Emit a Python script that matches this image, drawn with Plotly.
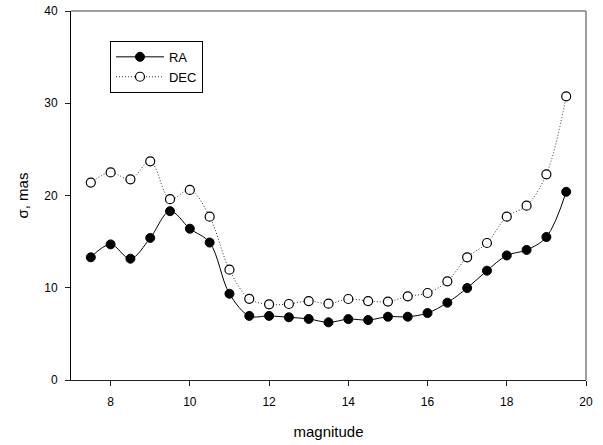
import plotly.graph_objects as go

magnitude = [7.5, 8.0, 8.5, 9.0, 9.5, 10.0, 10.5, 11.0, 11.5, 12.0, 12.5, 13.0, 13.5,
             14.0, 14.5, 15.0, 15.5, 16.0, 16.5, 17.0, 17.5, 18.0, 18.5, 19.0, 19.5]
ra = [13.3, 14.7, 13.15, 15.4, 18.3, 16.4, 14.9, 9.35, 6.95, 6.95, 6.8, 6.62, 6.25,
      6.6, 6.5, 6.86, 6.86, 7.26, 8.38, 9.97, 11.85, 13.5, 14.1, 15.5, 20.4]
dec = [21.4, 22.5, 21.75, 23.7, 19.6, 20.6, 17.7, 11.96, 8.8, 8.2, 8.24, 8.56, 8.27,
       8.78, 8.56, 8.5, 9.07, 9.43, 10.7, 13.3, 14.85, 17.7, 18.9, 22.3, 30.75]

x_ticks = [8, 10, 12, 14, 16, 18, 20]
y_ticks = [0, 10, 20, 30, 40]

FONT = "Liberation Sans, Arial, sans-serif"

fig = go.Figure()
fig.add_trace(go.Scatter(
    x=magnitude, y=ra, name="RA", mode="lines+markers",
    line=dict(color="black", width=1, shape="spline", smoothing=1),
    marker=dict(symbol="circle", size=9, color="black", line=dict(color="black", width=1)),
))
fig.add_trace(go.Scatter(
    x=magnitude, y=dec, name="DEC", mode="lines+markers",
    line=dict(color="#333333", width=1, dash="1px,2px", shape="spline", smoothing=1),
    marker=dict(symbol="circle", size=9, color="white", line=dict(color="black", width=1.2)),
))

# gray top and right frame lines
fig.add_shape(type="line", xref="paper", yref="paper", x0=0, x1=1, y0=1, y1=1,
              line=dict(color="#808080", width=1.5), layer="below")
fig.add_shape(type="line", xref="paper", yref="paper", x0=1, x1=1, y0=0, y1=1,
              line=dict(color="#808080", width=1.5), layer="below")

fig.update_layout(
    width=603, height=445,
    margin=dict(l=71, r=17, t=11, b=65, autoexpand=False),
    paper_bgcolor="white", plot_bgcolor="white",
    font=dict(family=FONT, size=12, color="black"),
    showlegend=True,
    legend=dict(
        x=0.0757, y=0.919, xanchor="left", yanchor="top",
        bordercolor="black", borderwidth=1, bgcolor="white",
        font=dict(family=FONT, size=13, color="black"),
        tracegroupgap=0, itemwidth=48,
    ),
    xaxis=dict(
        range=[7, 20], tickvals=x_ticks, ticktext=[str(v) for v in x_ticks],
        showgrid=False, zeroline=False, automargin=False,
        showline=True, linecolor="#222222", linewidth=1,
        ticks="outside", ticklen=5, tickcolor="#222222", ticklabelstandoff=6,
        tickfont=dict(family=FONT, size=12),
        title=dict(text="magnitude", font=dict(family=FONT, size=15), standoff=18),
    ),
    yaxis=dict(
        range=[0, 40], tickvals=y_ticks, ticktext=[str(v) for v in y_ticks],
        showgrid=False, zeroline=False, automargin=False,
        showline=True, linecolor="black", linewidth=1,
        ticks="outside", ticklen=5, tickcolor="#222222", ticklabelstandoff=5,
        tickfont=dict(family=FONT, size=12),
        title=dict(text="σ, mas", font=dict(family=FONT, size=15), standoff=11),
    ),
)

fig.write_html(
    "out.html",
    config={"displayModeBar": False},
    post_script="document.body.style.margin='0';document.body.style.overflow='hidden';",
)
